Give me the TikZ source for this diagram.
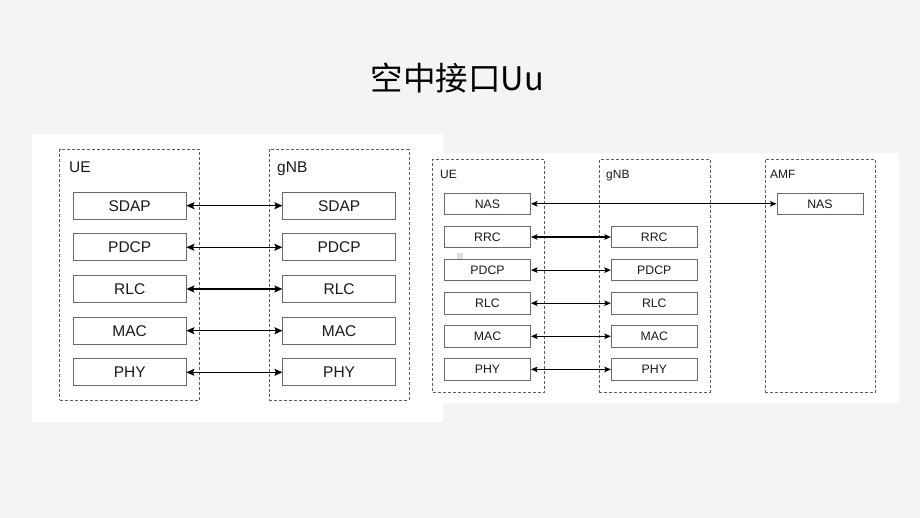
\documentclass[tikz,border=0pt]{standalone}
\usepackage{fontspec}
\setmainfont{Liberation Sans}
\newfontfamily\cjk{Noto Sans CJK SC}
\usepackage{tikz}
\usetikzlibrary{arrows.meta,positioning}
\usepackage{xcolor}
\definecolor{pagebg}{RGB}{244,244,244}
\definecolor{boxline}{RGB}{105,105,105}
\definecolor{dashline}{RGB}{95,95,95}
\definecolor{textcol}{RGB}{25,25,25}

\begin{document}
\begin{tikzpicture}
      [x=1pt, y=-1pt,
      entity box/.style={draw=dashline, dash pattern=on 3pt off 2pt, line width=0.7pt, inner sep=0pt},
      big layer/.style={draw=boxline, line width=0.9pt, inner sep=0pt, minimum width=112.5pt, minimum height=27pt, text=textcol, font=\fontsize{15.5}{18}\selectfont},
      small layer/.style={draw=boxline, line width=0.9pt, inner sep=0pt, minimum width=86pt, minimum height=21.5pt, text=textcol, font=\fontsize{12.3}{14}\selectfont},
      big label/.style={anchor=base west, inner sep=0pt, text=textcol, font=\fontsize{15.5}{18}\selectfont},
      small label/.style={anchor=base west, inner sep=0pt, text=textcol, font=\fontsize{12}{14}\selectfont},
      big link/.style={draw=black, line width=1.4pt, {Stealth[length=8pt,width=7pt,inset=1.5pt]}-{Stealth[length=8pt,width=7pt,inset=1.5pt]}},
      small link/.style={draw=black, line width=1.1pt, {Stealth[length=6.5pt,width=5.5pt,inset=1.2pt]}-{Stealth[length=6.5pt,width=5.5pt,inset=1.2pt]}}
      ]

      % page and the two white panels
      \fill[pagebg] (0,0) rectangle (920,518);
      \useasboundingbox (0,0) rectangle (920,518);
      \fill[white] (31.7,134) rectangle (443.3,421.7);
      \fill[white] (430,152.7) rectangle (899.3,402.7);

      \node (title) at (457.5,78) {\cjk\fontsize{32.5}{36}\selectfont 空中接口Uu};

      % user plane stack
      \node[entity box, minimum width=139.8pt, minimum height=250.5pt] (up ue) at (129.4,274.75) {};
      \node[entity box, minimum width=139.8pt, minimum height=250.5pt] (up gnb) at (339.2,274.75) {};
      \node[big label] (up ue name) at (69,172.7) {UE};
      \node[big label] (up gnb name) at (277,172.7) {gNB};

      \node[big layer] (up ue sdap) at (129.7,205.7) {SDAP};
      \node[big layer] (up ue pdcp) at (129.7,247.3) {PDCP};
      \node[big layer] (up ue rlc)  at (129.7,289) {RLC};
      \node[big layer] (up ue mac)  at (129.7,330.7) {MAC};
      \node[big layer] (up ue phy)  at (129.7,372.3) {PHY};

      \node[big layer] (up gnb sdap) at (339.1,205.7) {SDAP};
      \node[big layer] (up gnb pdcp) at (339.1,247.3) {PDCP};
      \node[big layer] (up gnb rlc)  at (339.1,289) {RLC};
      \node[big layer] (up gnb mac)  at (339.1,330.7) {MAC};
      \node[big layer] (up gnb phy)  at (339.1,372.3) {PHY};

      \path[big link] (up ue sdap) -- (up gnb sdap);
      \path[big link] (up ue pdcp) -- (up gnb pdcp);
      \path[big link] (up ue rlc) -- (up gnb rlc);
      \path[big link] (up ue mac) -- (up gnb mac);
      \path[big link] (up ue phy) -- (up gnb phy);

      % control plane stack
      \node[entity box, minimum width=111.6pt, minimum height=233pt] (cp ue) at (488.5,275.8) {};
      \node[entity box, minimum width=110.7pt, minimum height=233pt] (cp gnb) at (654.7,275.8) {};
      \node[entity box, minimum width=110.7pt, minimum height=233pt] (cp amf) at (820.4,275.8) {};
      \node[small label] (cp ue name) at (440,178.3) {UE};
      \node[small label] (cp gnb name) at (606,178.3) {gNB};
      \node[small label] (cp amf name) at (770,178.3) {AMF};

      \node[small layer] (cp ue nas)  at (487.5,203.8) {NAS};
      \node[small layer] (cp ue rrc)  at (487.5,237) {RRC};
      \node[small layer] (cp ue pdcp) at (487.5,270.1) {PDCP};
      \node[small layer] (cp ue rlc)  at (487.5,303.2) {RLC};
      \node[small layer] (cp ue mac)  at (487.5,336.3) {MAC};
      \node[small layer] (cp ue phy)  at (487.5,369.4) {PHY};
      \fill[gray!25] (457.3,253.3) rectangle (462.7,258.7);

      \node[small layer] (cp gnb rrc)  at (654.3,237) {RRC};
      \node[small layer] (cp gnb pdcp) at (654.3,270.1) {PDCP};
      \node[small layer] (cp gnb rlc)  at (654.3,303.2) {RLC};
      \node[small layer] (cp gnb mac)  at (654.3,336.3) {MAC};
      \node[small layer] (cp gnb phy)  at (654.3,369.4) {PHY};

      \node[small layer] (cp amf nas) at (820,203.8) {NAS};

      \path[small link] (cp ue nas) -- (cp amf nas);
      \path[small link] (cp ue rrc) -- (cp gnb rrc);
      \path[small link] (cp ue pdcp) -- (cp gnb pdcp);
      \path[small link] (cp ue rlc) -- (cp gnb rlc);
      \path[small link] (cp ue mac) -- (cp gnb mac);
      \path[small link] (cp ue phy) -- (cp gnb phy);
\end{tikzpicture}
\end{document}
